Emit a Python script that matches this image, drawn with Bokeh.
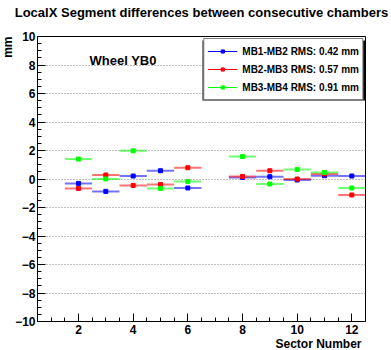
import math
from bokeh.plotting import figure
from bokeh.models import (Range1d, Label, Legend, LegendItem, ColumnDataSource,
                          FixedTicker, BoxAnnotation, Title)
from bokeh.embed import file_html
from bokeh.resources import INLINE

# ---- data ----
sectors = [1, 2, 3, 4, 5, 6, 7, 8, 9, 10, 11, 12]
mb1_mb2 = [None, -0.31, -0.87, 0.21, 0.58, -0.63, None, 0.11, 0.16, -0.07, 0.23, 0.21]
mb2_mb3 = [None, -0.66, 0.28, -0.45, -0.38, 0.79, None, 0.18, 0.58, 0.00, 0.35, -1.12]
mb3_mb4 = [None, 1.40, 0.00, 1.98, -0.66, -0.17, None, 1.58, -0.35, 0.67, 0.46, -0.63]
series_names = ["MB1-MB2 RMS: 0.42 mm", "MB2-MB3 RMS: 0.57 mm", "MB3-MB4 RMS: 0.91 mm"]
series_colors = ["#0000ff", "#ff0000", "#00ff00"]
y_ticks = [-10, -8, -6, -4, -2, 0, 2, 4, 6, 8, 10]
x_ticks = [2, 4, 6, 8, 10, 12]

FONT = "Liberation Sans"

p = figure(width=391, height=350, output_backend="svg", toolbar_location=None,
           x_range=Range1d(0.5, 12.5), y_range=Range1d(-10, 10),
           min_border_left=37, min_border_right=26, min_border_top=36, min_border_bottom=29)
p.title = None
p.background_fill_color = "white"
p.border_fill_color = "white"
p.outline_line_color = "black"
p.outline_line_width = 1

# title: an empty second line keeps the visible line near the top edge
p.add_layout(Title(text="LocalX Segment differences between consecutive chambers\n ",
                   align="center", vertical_align="top", text_font=FONT,
                   text_font_style="bold", text_font_size="13px", text_color="black",
                   standoff=0), "above")
p.add_layout(Title(text="mm", align="right", text_font=FONT, text_font_style="bold",
                   text_font_size="12px", text_color="black", standoff=-4), "left")
p.add_layout(Title(text="Sector Number", align="right", offset=4, text_font=FONT,
                   text_font_style="bold", text_font_size="12px", text_color="black",
                   standoff=-3), "below")

# axes styling
for ax in (p.xaxis[0], p.yaxis[0]):
    ax.axis_line_color = "black"
    ax.major_tick_out = 0
    ax.minor_tick_out = 0
    ax.major_tick_in = 8
    ax.minor_tick_in = 4
    ax.major_tick_line_color = "black"
    ax.minor_tick_line_color = "black"
    ax.major_label_text_font = FONT
    ax.major_label_text_font_style = "bold"
    ax.major_label_text_font_size = "12px"
    ax.major_label_text_color = "black"
p.yaxis[0].major_label_standoff = 2
p.xaxis[0].major_label_standoff = 3
p.yaxis[0].ticker = FixedTicker(ticks=y_ticks,
                                minor_ticks=[v / 2 for v in range(-20, 21)])
p.xaxis[0].ticker = FixedTicker(ticks=x_ticks,
                                minor_ticks=[v / 2 for v in range(1, 26)])
p.xgrid.visible = False
p.ygrid.grid_line_color = "#808080"
p.ygrid.grid_line_dash = "1 2"
p.ygrid.grid_line_width = 1

# data
nan = float("nan")
items = []
for vals, name, col in zip([mb1_mb2, mb2_mb3, mb3_mb4], series_names, series_colors):
    xs = [s for s, v in zip(sectors, vals) if v is not None]
    ys = [v for v in vals if v is not None]
    src = ColumnDataSource(dict(x=xs, y=ys,
                                x0=[s - 0.5 for s in xs], x1=[s + 0.5 for s in xs]))
    p.segment(x0="x0", y0="y", x1="x1", y1="y", source=src,
              line_color=col, line_width=2, line_alpha=0.55)
    p.scatter(x="x", y="y", source=src, marker="square", size=4,
              fill_color=col, line_color=col)
    # legend proxies (nothing drawn in the plot)
    lr = p.line(x=[nan], y=[nan], line_color=col, line_width=1)
    sr = p.scatter(x=[nan], y=[nan], marker="square", size=3, fill_color=col, line_color=col)
    items.append(LegendItem(label=name, renderers=[lr, sr]))

# legend shadow
p.add_layout(BoxAnnotation(left=0.5 + (202 - 37) / 27.33, right=0.5 + (366 - 37) / 27.33,
                           top=(178.5 - 40) / 14.25, bottom=(178.5 - 100) / 14.25,
                           fill_color="black", fill_alpha=1.0, line_alpha=0))

legend = Legend(items=items, location="top_right", orientation="vertical",
                padding=3, margin=2, spacing=0, label_height=18, glyph_height=8,
                glyph_width=30, label_standoff=5,
                label_text_font=FONT, label_text_font_style="bold",
                label_text_font_size="10px", label_text_color="black",
                border_line_color="black", border_line_width=1,
                background_fill_color="white", background_fill_alpha=1.0)
p.add_layout(legend, "center")

p.add_layout(Label(x=0.5 + (89 - 37) / 27.33, y=(178.5 - 60) / 14.25, text="Wheel YB0",
                   text_align="left", text_baseline="middle",
                   text_font=FONT, text_font_style="bold", text_font_size="13px",
                   text_color="black"))

open("out.html", "w").write(file_html(p, INLINE))
